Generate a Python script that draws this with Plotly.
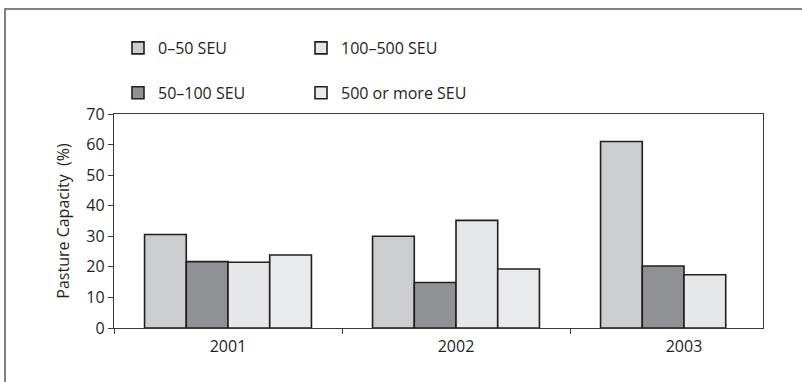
import plotly.graph_objects as go

# Pasture capacity by farm size class (SEU), per year
years = ["2001", "2002", "2003"]
series_names = ["0–50 SEU", "50–100 SEU", "100–500 SEU", "500 or more SEU"]
seu_0_50 = [30.6, 30.0, 61.0]
seu_50_100 = [21.7, 14.9, 20.3]
seu_100_500 = [21.5, 35.2, 17.4]
seu_500_plus = [23.9, 19.3, None]

values = [seu_0_50, seu_50_100, seu_100_500, seu_500_plus]
fills = ["#cbcdcf", "#8f9194", "#e6e7e8", "#e9eaeb"]
legend_ref = ["legend", "legend", "legend2", "legend2"]

W, H = 802, 382
ML, MR, MT, MB = 114, 39, 114, 54
plot_w = W - ML - MR
plot_h = H - MT - MB

fig = go.Figure()
for i, (name, vals, col, lg) in enumerate(zip(series_names, values, fills, legend_ref)):
    fig.add_trace(go.Bar(
        x=years, y=vals, name=name,
        marker=dict(color=col, line=dict(color="#231f20", width=1.6)),
        legend=lg, legendgroup=f"g{i}",
    ))

font_family = "Open Sans, Noto Sans, sans-serif"
fs = 16

fig.update_layout(
    width=W, height=H,
    margin=dict(l=ML, r=MR, t=MT, b=MB),
    paper_bgcolor="white", plot_bgcolor="white",
    barmode="group", bargap=0.268, bargroupgap=0,
    font=dict(family=font_family, size=fs, color="#231f20"),
    showlegend=True,
    legend=dict(
        x=(118 - ML) / plot_w, y=1 + (MT - 31) / plot_h,
        xanchor="left", yanchor="top",
        orientation="v", tracegroupgap=21,
        font=dict(size=fs), bgcolor="rgba(0,0,0,0)",
        itemwidth=30,
    ),
    legend2=dict(
        x=(301 - ML) / plot_w, y=1 + (MT - 31) / plot_h,
        xanchor="left", yanchor="top",
        orientation="v", tracegroupgap=21,
        font=dict(size=fs), bgcolor="rgba(0,0,0,0)",
        itemwidth=30,
    ),
    xaxis=dict(
        type="category",
        range=[-0.5, -0.5 + plot_w / 228],
        showline=True, linecolor="#3a3a3a", linewidth=1.3, mirror=True,
        ticks="outside", ticklen=5, tickcolor="#3a3a3a", tickwidth=1.3,
        tickson="boundaries", ticklabelstandoff=4,
        showgrid=False, zeroline=False,
        tickfont=dict(size=fs),
    ),
    yaxis=dict(
        range=[0, 70], dtick=10,
        showline=True, linecolor="#3a3a3a", linewidth=1.3, mirror=True,
        ticks="outside", ticklen=5, tickcolor="#3a3a3a", tickwidth=1.3,
        showgrid=False, zeroline=False,
        tickfont=dict(size=fs),
        title=dict(text="Pasture Capacity  (%)", font=dict(size=fs), standoff=12),
    ),
    shapes=[
        # outer frame around the whole figure
        dict(type="rect", xref="paper", yref="paper",
             x0=(5 - ML) / plot_w, x1=(W + 20 - ML) / plot_w,
             y0=-(H + 20 - (H - MB)) / plot_h, y1=(H - MB - 9) / plot_h,
             line=dict(color="#555555", width=1.5), layer="below"),
    ],
)

fig.write_html("out.html")
